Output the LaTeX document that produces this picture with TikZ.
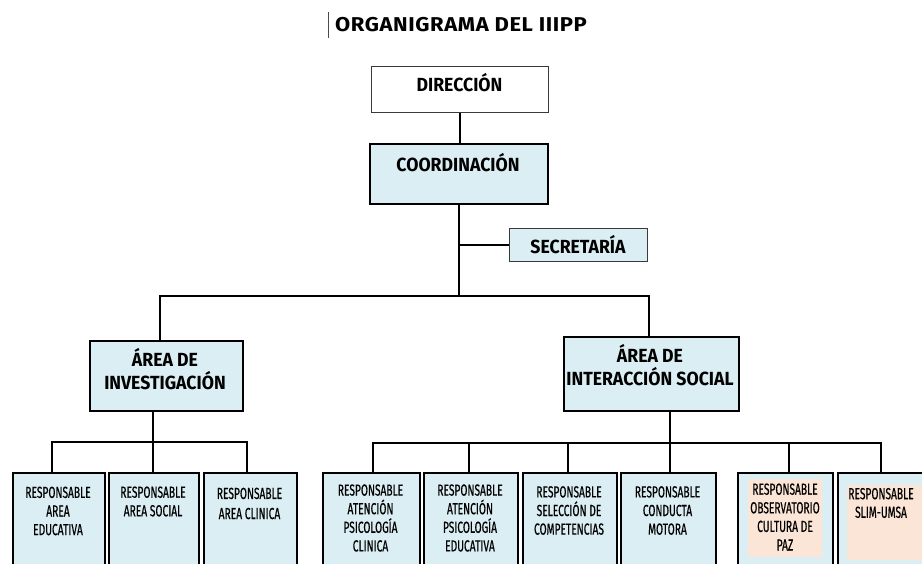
\documentclass[tikz,border=0pt]{standalone}
\usepackage{fontspec}
\setmainfont{Fira Sans}
\newfontfamily\titlefont[FakeStretch=1.1,LetterSpace=3]{Fira Sans}
\newfontfamily\headfont[FakeStretch=0.93]{Fira Sans}
\newfontfamily\smallfont[FakeStretch=0.64,FakeBold=0.5]{Fira Sans}
\definecolor{bluefill}{HTML}{DBEEF4}
\definecolor{peachfill}{HTML}{FBE5D6}
\definecolor{thinborder}{HTML}{3A3A3A}
\tikzset{
  boxbase/.style={rectangle, anchor=north west, inner sep=0pt},
  thickbox/.style={boxbase, draw=black, line width=2pt, fill=bluefill},
  whitebox/.style={boxbase, draw=thinborder, line width=1.1pt, fill=white},
  thinbluebox/.style={boxbase, draw=thinborder, line width=1.1pt, fill=bluefill},
  peachbox/.style={boxbase, fill=peachfill},
  conn/.style={draw=black, line width=2pt},
  headtxt/.style={align=center, inner sep=0pt, font=\headfont\bfseries\fontsize{19}{23}\selectfont},
  smalltxt/.style={align=center, inner sep=0pt, font=\smallfont\fontsize{16}{18.6}\selectfont},
}
\begin{document}
\begin{tikzpicture}[x=1pt,y=-1pt]
\useasboundingbox (0,0) rectangle (922,563);
\clip (0,0) rectangle (922,563);

% title
\node[inner sep=0pt, font=\titlefont\bfseries\fontsize{20}{24}\selectfont] (title) at (461,25) {ORGANIGRAMA DEL IIIPP};
\draw[line width=0.8pt, draw=black!70] (328,12) -- (328,38);

% boxes
\node[whitebox, minimum width=177pt, minimum height=46pt] (dir) at (371,66) {};
\node[thickbox, minimum width=178pt, minimum height=60pt] (coord) at (369,143) {};
\node[thinbluebox, minimum width=138pt, minimum height=33pt] (sec) at (509,228) {};
\node[thickbox, minimum width=153pt, minimum height=70pt] (inv) at (89,340) {};
\node[thickbox, minimum width=175pt, minimum height=74pt] (inter) at (563,336) {};

\node[thickbox, minimum width=92pt, minimum height=100pt] (b1) at (12,472) {};
\node[thickbox, minimum width=90pt, minimum height=100pt] (b2) at (108,472) {};
\node[thickbox, minimum width=93pt, minimum height=100pt] (b3) at (203,472) {};
\node[thickbox, minimum width=97pt, minimum height=100pt] (b4) at (322,472) {};
\node[thickbox, minimum width=94pt, minimum height=100pt] (b5) at (423,472) {};
\node[thickbox, minimum width=94pt, minimum height=100pt] (b6) at (522,472) {};
\node[thickbox, minimum width=95pt, minimum height=100pt] (b7) at (620,472) {};
\node[thickbox, minimum width=95pt, minimum height=100pt] (b8) at (737,472) {};
\node[thickbox, minimum width=88pt, minimum height=100pt] (b9) at (837,472) {};
\node[peachbox, minimum width=74pt, minimum height=78pt] (p8) at (748,479) {};
\node[peachbox, minimum width=76pt, minimum height=75pt] (p9) at (847,485) {};

% texts
\node[headtxt] (dirt) at (459.5,83) {DIRECCIÓN};
\node[headtxt] (coordt) at (458,163) {COORDINACIÓN};
\node[headtxt] (sect) at (578,245) {SECRETARÍA};
\node[headtxt] (invt) at (165,369) {ÁREA DE\\INVESTIGACIÓN};
\node[headtxt] (intert) at (650,365) {ÁREA DE\\INTERACCIÓN SOCIAL};

\node[smalltxt] (b1t) at (58,511) {RESPONSABLE\\AREA\\EDUCATIVA};
\node[smalltxt] (b2t) at (153,501.5) {RESPONSABLE\\AREA SOCIAL};
\node[smalltxt] (b3t) at (249.5,503.5) {RESPONSABLE\\[1.5pt]AREA CLINICA};
\node[smalltxt] (b4t) at (370.5,518) {RESPONSABLE\\ATENCIÓN\\PSICOLOGÍA\\CLINICA};
\node[smalltxt] (b5t) at (470,518) {RESPONSABLE\\ATENCIÓN\\PSICOLOGÍA\\EDUCATIVA};
\node[smalltxt] (b6t) at (569,510.5) {RESPONSABLE\\SELECCIÓN DE\\COMPETENCIAS};
\node[smalltxt] (b7t) at (667.5,510.5) {RESPONSABLE\\CONDUCTA\\MOTORA};
\node[smalltxt] (b8t) at (785,517) {RESPONSABLE\\OBSERVATORIO\\CULTURA DE\\PAZ};
\node[smalltxt] (b9t) at (881,503) {RESPONSABLE\\SLIM-UMSA};

% connectors
\coordinate (busL) at (160,296);
\coordinate (busR) at (649,296);
\coordinate (invdrop) at (153,410);
\coordinate (leftL) at (52,442);
\coordinate (leftM) at (153,442);
\coordinate (leftR) at (247,442);
\coordinate (interdrop) at (670,410);
\coordinate (rA) at (373,443);
\coordinate (rB) at (469,443);
\coordinate (rC) at (568,443);
\coordinate (rD) at (670,443);
\coordinate (rE) at (789,443);
\coordinate (rF) at (881,443);

\draw[conn] (dir.south) -- (dir.south |- coord.north);
\draw[conn] (coord.south) -- (coord.south |- busL);
\draw[conn] (coord.south |- sec.west) -- (sec.west);
\draw[conn] ([xshift=-1pt]busL) -- ([xshift=1pt]busR);
\draw[conn] (busL) -- (busL |- inv.north);
\draw[conn] (busR) -- (busR |- inter.north);

\draw[conn] (invdrop) -- (leftM);
\draw[conn] ([xshift=-1pt]leftL) -- ([xshift=1pt]leftR);
\draw[conn] (leftL) -- (leftL |- b1.north);
\draw[conn] (leftM) -- (leftM |- b2.north);
\draw[conn] (leftR) -- (leftR |- b3.north);

\draw[conn] (interdrop) -- (rD);
\draw[conn] ([xshift=-1pt]rA) -- ([xshift=1pt]rF);
\draw[conn] (rA) -- (rA |- b4.north);
\draw[conn] (rB) -- (rB |- b5.north);
\draw[conn] (rC) -- (rC |- b6.north);
\draw[conn] (rD) -- (rD |- b7.north);
\draw[conn] (rE) -- (rE |- b8.north);
\draw[conn] (rF) -- (rF |- b9.north);
\end{tikzpicture}
\end{document}
